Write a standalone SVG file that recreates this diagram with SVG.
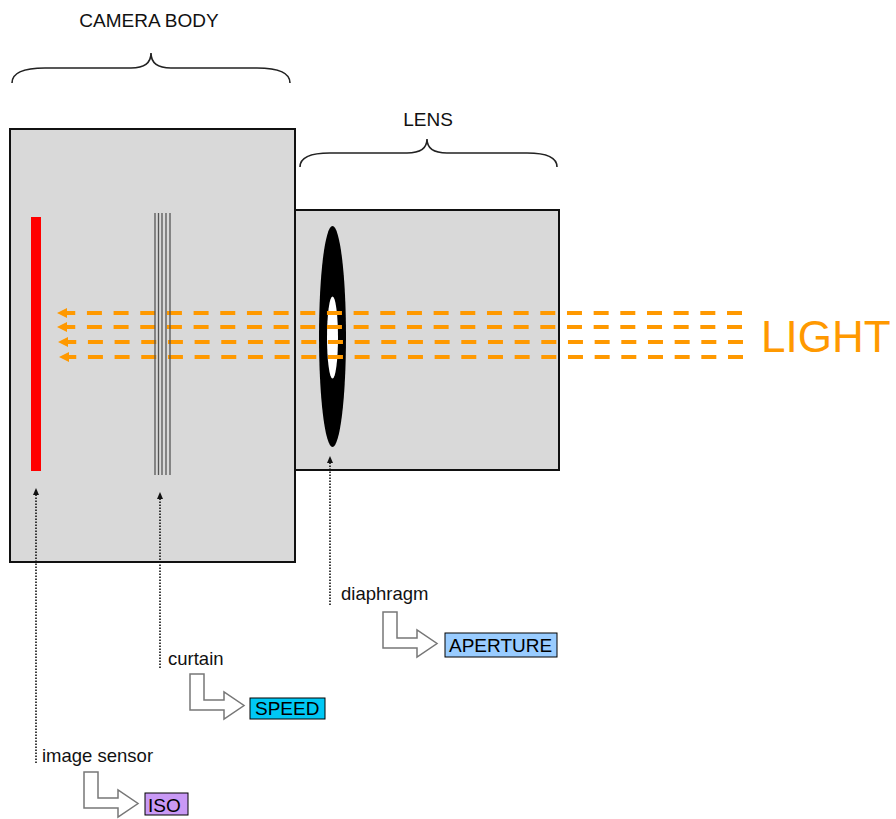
<svg xmlns="http://www.w3.org/2000/svg" xmlns:xlink="http://www.w3.org/1999/xlink" width="896" height="819" viewBox="0 0 896 819">
<style>
.box{fill:#d9d9d9;stroke:none}
.edge{fill:none;stroke:#111;stroke-width:2}
.brace{fill:none;stroke:#222;stroke-width:1.6}
.title{font-family:"Liberation Sans",Arial,sans-serif;font-size:19px;fill:#111}
.lbl{font-family:"Liberation Sans",Arial,sans-serif;font-size:18.5px;fill:#111}
.tag{font-family:"Liberation Sans",Arial,sans-serif;font-size:19px;fill:#000}
.ray{fill:none;stroke:#ff9900;stroke-width:4;stroke-dasharray:15 11.67}
.head{fill:#ff9900}
.lead{fill:none;stroke:#111;stroke-width:1.6;stroke-dasharray:1.6 1.4}
.tip{fill:#111}
.bent{fill:#fff;stroke:#777;stroke-width:1.5}
.curt{stroke:#555;stroke-width:1.3}
</style>
<defs>
<path id="bentArrow" class="bent" d="M0,0 h14 v26 h20 v-8 l20,13.5 l-20,13.5 v-9 h-34 z"/>
</defs>
<rect width="896" height="819" fill="#fff"/>

<g id="camera-body">
<rect class="box" x="10" y="129" width="285" height="433"/>
<text class="title" x="149" y="27" text-anchor="middle">CAMERA BODY</text>
<path class="brace" d="M12,83 Q12,68 45,68 L131,68 Q151,68 151,53 Q151,68 171,68 L257,68 Q290,68 290,83"/>
</g>

<g id="lens">
<rect class="box" x="295" y="210" width="264" height="260"/>
<text class="title" x="428" y="126" text-anchor="middle">LENS</text>
<path class="brace" d="M300,167 Q300,153 330,153 L407,153 Q427,153 427,139 Q427,153 447,153 L527,153 Q557,153 557,167"/>
</g>

<g id="diaphragm">
<ellipse cx="332.5" cy="336.5" rx="13.5" ry="110.5" fill="#000"/>
<ellipse cx="332.5" cy="337.5" rx="5.5" ry="41" fill="#fff"/>
</g>

<g id="light">
<path class="ray" d="M742,313 H67"/>
<path class="ray" d="M742,327 H67"/>
<path class="ray" d="M743,342 H68"/>
<path class="ray" d="M743,357 H69"/>
<polygon class="head" points="57,313 67,308 67,318"/>
<polygon class="head" points="57,327 67,322 67,332"/>
<polygon class="head" points="58,342 68,337 68,347"/>
<polygon class="head" points="59,357 69,352 69,362"/>
<text x="761" y="352" font-family="Liberation Sans, Arial, sans-serif" font-size="44" fill="#ff9900">LIGHT</text>
</g>

<g id="image-sensor">
<rect x="31" y="217" width="10" height="254" fill="#ff0000"/>
</g>

<g id="curtain">
<line class="curt" x1="155" y1="213" x2="155" y2="475"/>
<line class="curt" x1="158.5" y1="213" x2="158.5" y2="475"/>
<line class="curt" x1="162" y1="213" x2="162" y2="475"/>
<line class="curt" x1="166" y1="213" x2="166" y2="475"/>
<line class="curt" x1="170" y1="213" x2="170" y2="475"/>
</g>

<g id="outlines">
<rect class="edge" x="10" y="129" width="285" height="433"/>
<rect class="edge" x="295" y="210" width="264" height="260"/>
</g>

<g id="connectors">
<path class="lead" d="M36,763 V494"/>
<polygon class="tip" points="36,488 39,495 33,495"/>
<path class="lead" d="M160,668 V498"/>
<polygon class="tip" points="160,492 163,499 157,499"/>
<path class="lead" d="M330,605 V462"/>
<polygon class="tip" points="330,456 333,463 327,463"/>
<use xlink:href="#bentArrow" transform="translate(383,612)"/>
<use xlink:href="#bentArrow" transform="translate(190,674)"/>
<use xlink:href="#bentArrow" transform="translate(84,772)"/>
</g>

<g id="label-diaphragm">
<text class="lbl" x="341" y="600">diaphragm</text>
<rect x="445" y="633" width="112" height="24" fill="#99ccff" stroke="#000" stroke-width="1"/>
<text class="tag" x="449" y="652">APERTURE</text>
</g>

<g id="label-curtain">
<text class="lbl" x="168" y="665">curtain</text>
<rect x="250" y="698" width="75" height="21" fill="#00c8f5" stroke="#000" stroke-width="1"/>
<text class="tag" x="255" y="715">SPEED</text>
</g>

<g id="label-sensor">
<text class="lbl" x="42" y="762">image sensor</text>
<rect x="145" y="793" width="43" height="22" fill="#c999f5" stroke="#000" stroke-width="1"/>
<text class="tag" x="148" y="812">ISO</text>
</g>
</svg>
